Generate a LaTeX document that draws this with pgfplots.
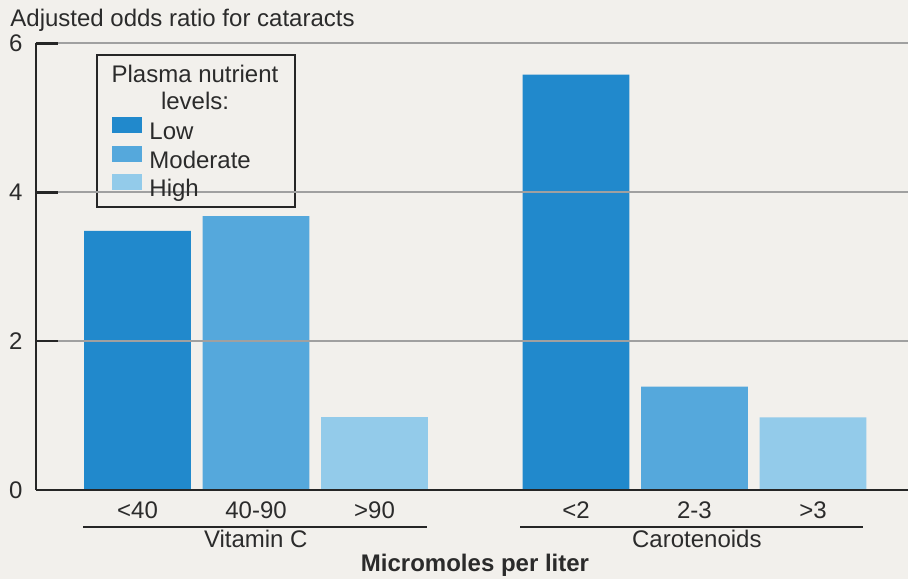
\documentclass[border=0pt]{standalone}
\usepackage{pgfplots}
\pgfplotsset{compat=1.18}
\usepackage{fontspec}
\setmainfont{Liberation Sans}
\definecolor{bg}{HTML}{F2F0EC}
\definecolor{txt}{HTML}{2B2B2B}
\definecolor{axc}{HTML}{262626}
\definecolor{gridc}{HTML}{A0A0A0}
\definecolor{low}{HTML}{2189CC}
\definecolor{mod}{HTML}{55A8DC}
\definecolor{high}{HTML}{93CBEA}
\begin{document}
\begin{tikzpicture}[font=\fontsize{12}{14}\selectfont, text=txt]
\begin{axis}[
  set layers, axis on top,
  scale only axis, width=436pt, height=223.25pt,
  xmin=-0.857, xmax=6.502, ymin=0, ymax=6,
  axis x line=bottom, axis y line=left,
  axis line style={-, line width=1.25pt, draw=axc},
  ytick={0,2,4,6},
  ymajorgrids,
  grid style={on layer=axis grid, line width=1pt, gridc},
  y tick style={line width=1.25pt, axc},
  major tick length=11pt, tick align=inside,
  xtick={0,1,2,3.7,4.7,5.7},
  xticklabels={<40,40-90,>90,<2,2-3,>3},
  x tick style={draw=none},
  xticklabel style={inner sep=0pt, anchor=north, yshift=5.5pt, text=txt},
  yticklabel style={inner sep=0pt, anchor=east, xshift=-6.5pt, text=txt},
  /pgf/number format/assume math mode=true,
  ybar, bar width=0.9,
  clip=false,
  legend image code/.code={\fill[#1] (0pt,0pt) rectangle (15pt,8pt);},
  legend style={at={(0.0872,0.8354)}, anchor=north west, draw=none, fill=none,
    inner sep=0pt, row sep=-0.5pt,
    /tikz/every odd column/.append style={column sep=2.5pt},
    nodes={inner sep=1pt, text height=9pt, text depth=2.5pt, text=txt}},
  legend cell align=left,
]
\begin{pgfonlayer}{axis background}
\fill[bg] (rel axis cs:-0.04128,-0.1993) rectangle (rel axis cs:1,1.0974);
\end{pgfonlayer}
\coordinate (bbsw) at (rel axis cs:-0.04128,-0.1993);
\coordinate (bbne) at (rel axis cs:1,1.0974);
\addplot[fill=low, draw=none, bar shift=0pt] coordinates {(0,3.48) (3.7,5.58)};
\addlegendentry{Low}
\addplot[fill=mod, draw=none, bar shift=0pt] coordinates {(1,3.68) (4.7,1.39)};
\addlegendentry{Moderate}
\addplot[fill=high, draw=none, bar shift=0pt] coordinates {(2,0.98) (5.7,0.975)};
\addlegendentry{High}
\draw[axc, line width=0.6pt] (axis cs:-0.342,3.803) rectangle (axis cs:1.329,5.845);
\node[anchor=base] at (axis cs:0.485,5.482) {Plasma nutrient};
\node[anchor=base] at (axis cs:0.485,5.106) {levels:};
\node[anchor=base west, inner sep=0pt] at (rel axis cs:-0.0298,1.037) {Adjusted odds ratio for cataracts};
\draw[axc, line width=0.75pt] (axis cs:-0.459,-0.497) -- (axis cs:2.443,-0.497);
\draw[axc, line width=0.75pt] (axis cs:3.228,-0.497) -- (axis cs:6.122,-0.497);
\node[anchor=base, inner sep=0pt] at (axis cs:0.998,-0.779) {Vitamin C};
\node[anchor=base, inner sep=0pt] at (axis cs:4.72,-0.779) {Carotenoids};
\node[anchor=base, inner sep=0pt, font=\fontsize{12}{14}\selectfont\bfseries] at (axis cs:2.848,-1.102) {Micromoles per liter};
\end{axis}
\pgfresetboundingbox
\path[use as bounding box] (bbsw) rectangle (bbne);
\end{tikzpicture}
\end{document}
